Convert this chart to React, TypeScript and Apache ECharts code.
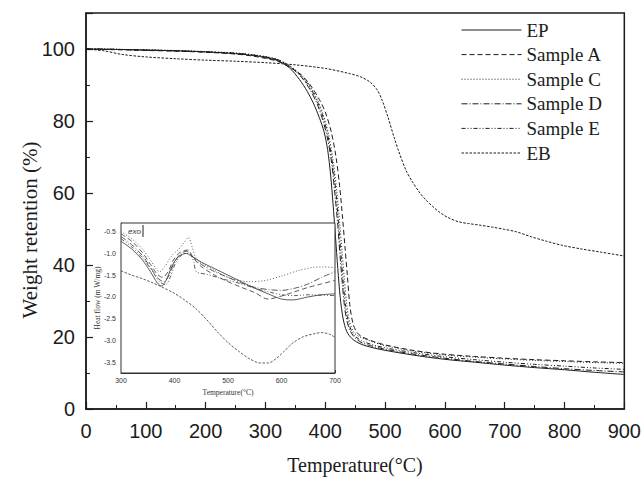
import React, { useEffect, useRef } from "react";
import * as echarts from "echarts";

// ---- Main TGA data: [temperature °C, weight retention %] ----
const epData: number[][] = [
  [0, 100], [50, 99.9], [100, 99.7], [150, 99.5], [200, 99.2], [250, 98.7], [280, 98.2], [300, 97.6],
  [320, 96.8], [340, 94.8], [357, 91.5], [370, 88.2], [380, 85], [390, 81], [398, 77], [404, 72],
  [409, 65], [413, 57], [417, 48], [421, 39], [425, 31], [430, 25], [436, 21.5], [445, 19.5],
  [460, 18], [480, 17], [500, 16.3], [550, 14.9], [600, 13.8], [650, 13], [700, 12.2], [750, 11.5],
  [800, 10.9], [850, 10.2], [900, 9.6],
];
const sampleAData: number[][] = [
  [0, 100], [50, 99.8], [100, 99.6], [150, 99.4], [200, 99.1], [250, 98.6], [280, 98.0], [300, 97.4],
  [320, 96.6], [340, 95.0], [360, 92.8], [375, 90], [390, 86], [400, 82.5], [410, 77], [418, 70],
  [424, 62], [429, 53], [433, 45], [437, 37], [441, 29], [446, 24], [452, 21.5], [460, 20.2],
  [480, 18.8], [500, 17.8], [550, 16.2], [600, 15.2], [650, 14.6], [700, 14.1], [750, 13.7],
  [800, 13.4], [850, 13.1], [900, 12.9],
];
const sampleCData: number[][] = [
  [0, 100], [50, 99.9], [100, 99.8], [150, 99.6], [200, 99.3], [250, 98.9], [280, 98.4], [300, 97.9],
  [320, 97.1], [340, 95.4], [360, 92.8], [375, 89.6], [388, 85.5], [397, 81.5], [406, 76], [413, 69],
  [419, 61], [424, 52], [428, 44], [432, 36], [436, 29], [441, 24], [448, 21.3], [458, 20],
  [480, 18.6], [500, 17.6], [550, 16], [600, 15], [650, 14.4], [700, 13.9], [750, 13.5],
  [800, 13.2], [850, 12.9], [900, 12.7],
];
const sampleDData: number[][] = [
  [0, 100], [50, 99.9], [100, 99.7], [150, 99.5], [200, 99.2], [250, 98.8], [280, 98.3], [300, 97.8],
  [320, 97], [340, 95.2], [360, 92.2], [375, 88.6], [387, 84.5], [396, 80.2], [404, 75], [411, 68],
  [416, 60], [421, 51], [425, 42], [429, 34], [433, 27.5], [439, 22.8], [447, 20.3], [460, 18.5],
  [480, 17.4], [500, 16.6], [550, 15.2], [600, 14.1], [650, 13.2], [700, 12.5], [750, 11.8],
  [800, 11.2], [850, 10.7], [900, 10.3],
];
const sampleEData: number[][] = [
  [0, 100], [50, 99.9], [100, 99.7], [150, 99.5], [200, 99.2], [250, 98.8], [280, 98.3], [300, 97.8],
  [320, 97.1], [340, 95.3], [360, 92.5], [375, 89.2], [387, 85.3], [397, 80.8], [405, 75.5], [412, 68.5],
  [418, 60], [422, 52], [426, 43.5], [430, 35.5], [434, 28.5], [440, 23.3], [448, 20.6], [460, 19],
  [480, 17.8], [500, 17], [550, 15.6], [600, 14.5], [650, 13.7], [700, 13], [750, 12.4],
  [800, 11.9], [850, 11.4], [900, 11],
];
const ebData: number[][] = [
  [0, 100], [30, 99.5], [60, 98.5], [100, 97.8], [150, 97.3], [200, 96.9], [250, 96.6], [300, 96.2],
  [350, 95.6], [400, 94.6], [440, 93.2], [460, 92.2], [475, 90.8], [487, 88.6], [495, 85.8], [505, 81],
  [515, 75.5], [523, 71.5], [535, 66.3], [545, 63.3], [557, 60.3], [568, 58.1], [580, 56.2], [590, 54.8],
  [605, 53.2], [623, 52], [640, 51.5], [657, 51.1], [680, 50.5], [700, 49.9], [720, 49.2], [745, 47.8],
  [770, 46.6], [795, 45.5], [830, 44.4], [860, 43.6], [900, 42.5],
];

// ---- Inset DSC data: [temperature °C, heat flow mW/mg] ----
const epDsc: number[][] = [
  [300, -0.72], [320, -0.9], [340, -1.15], [355, -1.42], [368, -1.68], [376, -1.75], [385, -1.6],
  [395, -1.3], [405, -1.1], [415, -1.02], [422, -1.0], [430, -1.05], [450, -1.2], [475, -1.35],
  [500, -1.5], [525, -1.65], [550, -1.8], [575, -1.93], [600, -2.05], [620, -2.07], [650, -2.0],
  [675, -1.95], [700, -1.93],
];
const sampleADsc: number[][] = [
  [300, -0.55], [320, -0.72], [340, -0.98], [355, -1.25], [368, -1.48], [378, -1.55], [388, -1.42],
  [398, -1.15], [410, -0.98], [425, -0.92], [435, -1.1], [450, -1.3], [475, -1.5], [500, -1.65],
  [525, -1.78], [550, -1.9], [575, -2.05], [600, -1.98], [625, -1.88], [650, -1.78], [675, -1.7],
  [700, -1.62],
];
const sampleCDsc: number[][] = [
  [300, -0.5], [320, -0.66], [340, -0.9], [355, -1.15], [366, -1.36], [372, -1.42], [382, -1.3],
  [395, -1.05], [408, -0.9], [418, -0.75], [426, -0.63], [433, -0.85], [440, -1.1], [455, -1.25],
  [470, -1.35], [500, -1.55], [540, -1.65], [570, -1.62], [600, -1.52], [630, -1.4], [660, -1.32],
  [680, -1.31], [700, -1.33],
];
const sampleDDsc: number[][] = [
  [300, -0.61], [320, -0.8], [340, -1.05], [355, -1.32], [370, -1.58], [380, -1.65], [390, -1.5],
  [400, -1.2], [412, -1.0], [423, -0.95], [432, -1.05], [450, -1.25], [475, -1.42], [500, -1.55],
  [525, -1.68], [550, -1.78], [575, -1.83], [600, -1.85], [625, -1.8], [650, -1.7], [675, -1.55],
  [700, -1.42],
];
const sampleEDsc: number[][] = [
  [300, -0.66], [320, -0.85], [340, -1.1], [358, -1.4], [372, -1.65], [383, -1.72], [392, -1.55],
  [402, -1.22], [412, -1.05], [420, -1.0], [430, -1.02], [436, -1.2], [441, -1.42], [460, -1.48],
  [480, -1.55], [500, -1.62], [525, -1.7], [550, -1.8], [575, -1.88], [600, -1.95], [625, -1.97],
  [650, -1.95], [675, -1.96], [700, -1.97],
];
const ebDsc: number[][] = [
  [300, -1.4], [320, -1.5], [340, -1.58], [360, -1.68], [376, -1.77], [400, -1.92], [420, -2.08],
  [440, -2.27], [460, -2.52], [480, -2.8], [500, -3.05], [520, -3.25], [540, -3.42], [560, -3.52],
  [575, -3.52], [590, -3.42], [605, -3.25], [620, -3.07], [640, -2.92], [660, -2.85], [675, -2.82],
  [690, -2.86], [700, -2.93],
];

const seriesNames = ["EP", "Sample A", "Sample C", "Sample D", "Sample E", "EB"];
const mainSets = [epData, sampleAData, sampleCData, sampleDData, sampleEData, ebData];
const dscSets = [epDsc, sampleADsc, sampleCDsc, sampleDDsc, sampleEDsc, ebDsc];
const dashStyles: any[] = ["solid", [5, 3], [1, 2], [6, 2, 1, 2], [4, 2, 1, 2, 1, 2], [2.5, 1.5]];

const xTicks = { min: 0, max: 900, interval: 100 };
const yTicks = { min: 0, max: 110, interval: 20 };

const INK = "#1c1c1c";
const SERIF = "'Liberation Serif', 'Times New Roman', serif";
const SANS = "'Liberation Sans', Arial, sans-serif";

export default function App() {
  const ref = useRef<HTMLDivElement>(null);
  useEffect(() => {
    document.body.style.margin = "0";
    if (!ref.current) return;
    const chart = echarts.init(ref.current, undefined, { renderer: "svg" });

    const mainSeries = mainSets.map((d, i) => ({
      name: seriesNames[i],
      type: "line",
      xAxisIndex: 0,
      yAxisIndex: 0,
      data: d,
      symbol: "none",
      smooth: 0.3,
      z: 2,
      lineStyle: { color: INK, width: 1, type: dashStyles[i] },
      itemStyle: { color: INK },
    }));
    const insetSeries = dscSets.map((d, i) => ({
      name: seriesNames[i] + " DSC",
      type: "line",
      xAxisIndex: 1,
      yAxisIndex: 1,
      data: d,
      symbol: "none",
      smooth: 0.3,
      z: 6,
      lineStyle: { color: "#333", width: 0.8, type: dashStyles[i] },
    }));

    chart.setOption({
      animation: false,
      backgroundColor: "#fff",
      grid: [
        { left: 86, top: 13, width: 539, height: 396, show: true, borderColor: INK, borderWidth: 1.5, backgroundColor: "transparent" },
        { left: 121, top: 223, width: 214, height: 150, show: true, borderColor: "#333", borderWidth: 1, backgroundColor: "#fff", z: 5 },
      ],
      legend: {
        data: seriesNames,
        orient: "vertical",
        left: 456,
        top: 15,
        itemWidth: 60,
        itemHeight: 14,
        itemGap: 4.6,
        itemStyle: { opacity: 0, borderWidth: 0 },
        lineStyle: { width: 1 },
        textStyle: { fontFamily: SERIF, fontSize: 19, lineHeight: 20, color: INK },
        selectedMode: false,
      },
      xAxis: [
        {
          type: "value", gridIndex: 0, ...xTicks,
          axisLine: { show: true, lineStyle: { color: INK, width: 1.5 } },
          axisTick: { show: true, inside: true, length: 7, lineStyle: { color: INK, width: 1.2 } },
          minorTick: { show: true, splitNumber: 2, length: 4, lineStyle: { color: INK, width: 1 } },
          splitLine: { show: false },
          axisLabel: { fontFamily: SANS, fontSize: 20, color: INK, margin: 12 },
        },
        {
          type: "value", gridIndex: 1, min: 300, max: 700, interval: 100,
          axisLine: { show: true, lineStyle: { color: "#333", width: 1 } },
          axisTick: { show: true, inside: true, length: 3, lineStyle: { color: "#333" } },
          minorTick: { show: true, splitNumber: 2, length: 2, lineStyle: { color: "#333" } },
          splitLine: { show: false },
          axisLabel: { fontFamily: SANS, fontSize: 7, color: "#333", margin: 4 },
        },
      ],
      yAxis: [
        {
          type: "value", gridIndex: 0, ...yTicks,
          axisLine: { show: true, lineStyle: { color: INK, width: 1.5 } },
          axisTick: { show: true, inside: true, length: 7, lineStyle: { color: INK, width: 1.2 } },
          minorTick: { show: true, splitNumber: 2, length: 4, lineStyle: { color: INK, width: 1 } },
          splitLine: { show: false },
          axisLabel: { fontFamily: SANS, fontSize: 20, color: INK, margin: 11, showMaxLabel: false,
            formatter: (v: number) => (v > 100 ? "" : String(v)) },
        },
        {
          type: "value", gridIndex: 1, min: -3.75, max: -0.3, interval: 0.25,
          axisLine: { show: true, lineStyle: { color: "#333", width: 1 } },
          axisTick: { show: true, inside: true, length: 2.5, lineStyle: { color: "#333" } },
          splitLine: { show: false },
          axisLabel: {
            fontFamily: SANS, fontSize: 7, color: "#333", margin: 5,
            formatter: (v: number) => (Math.abs(v * 2 - Math.round(v * 2)) < 1e-6 && v <= -0.5 ? v.toFixed(1) : ""),
          },
        },
      ],
      graphic: [
        { type: "text", x: 30, y: 230, rotation: Math.PI / 2, z: 10,
          style: { text: "Weight retention (%)", font: `21px ${SERIF}`, fill: INK, textAlign: "center", textVerticalAlign: "middle" } },
        { type: "text", x: 355, y: 465, z: 10,
          style: { text: "Temperature(°C)", font: `20px ${SERIF}`, fill: INK, textAlign: "center", textVerticalAlign: "middle" } },
        { type: "text", x: 97, y: 298, rotation: Math.PI / 2, z: 10,
          style: { text: "Heat flow (m W/mg)", font: `7.5px ${SERIF}`, fill: "#333", textAlign: "center", textVerticalAlign: "middle" } },
        { type: "text", x: 228, y: 392, z: 10,
          style: { text: "Temperature(°C)", font: `7.5px ${SERIF}`, fill: "#333", textAlign: "center", textVerticalAlign: "middle" } },
        { type: "text", x: 128, y: 231, z: 10,
          style: { text: "exo", font: `italic 8px ${SANS}`, fill: "#333", textAlign: "left", textVerticalAlign: "middle" } },
        { type: "line", z: 10, shape: { x1: 143, y1: 225, x2: 143, y2: 237 }, style: { stroke: "#222", lineWidth: 1 } },
      ],
      series: [...mainSeries, ...insetSeries],
    });
    return () => chart.dispose();
  }, []);
  return <div ref={ref} style={{ width: 644, height: 477 }} />;
}
